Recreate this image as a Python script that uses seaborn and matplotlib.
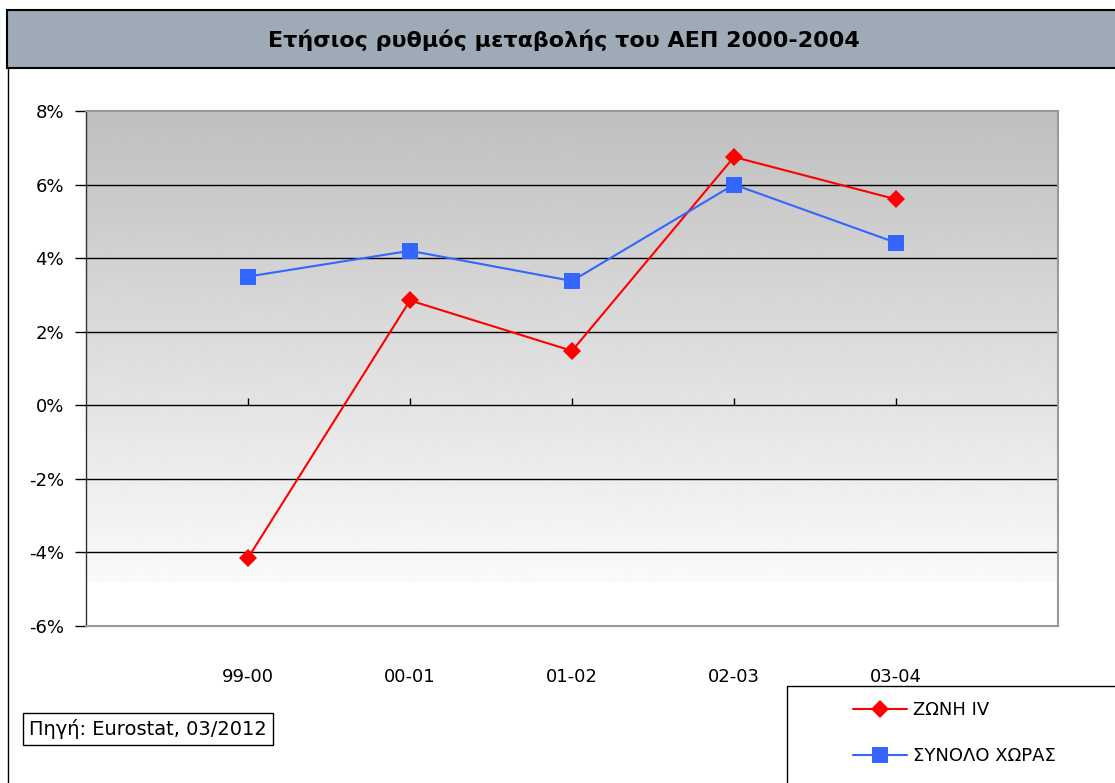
import matplotlib
matplotlib.use("Agg")
import matplotlib.pyplot as plt
import numpy as np
import pandas as pd
import seaborn as sns
from matplotlib.patches import Rectangle

# data
periods = ["99-00", "00-01", "01-02", "02-03", "03-04"]
zone_iv = [-4.15, 2.85, 1.48, 6.75, 5.6]
country_total = [3.5, 4.2, 3.38, 6.0, 4.42]
series_names = ["ΖΩΝΗ IV", "ΣΥΝΟΛΟ ΧΩΡΑΣ"]
y_ticks = [-6, -4, -2, 0, 2, 4, 6, 8]

df = pd.DataFrame({
    "period": periods * 2,
    "value": zone_iv + country_total,
    "series": [series_names[0]] * len(periods) + [series_names[1]] * len(periods),
})

sns.set_theme(style="white")
plt.rcParams["font.family"] = ["DejaVu Sans"]
plt.rcParams["text.color"] = "black"
plt.rcParams["xtick.color"] = "black"
plt.rcParams["ytick.color"] = "black"

fig = plt.figure(figsize=(11.15, 7.83), dpi=100)
ax = fig.add_axes([86 / 1115, 1 - 626 / 783, 972 / 1115, 515 / 783])

# gradient background (dark grey at top, fading to white near -4.8%)
grad = np.linspace(0.75, 0.98, 256).reshape(-1, 1)
ax.imshow(grad, cmap="gray", vmin=0, vmax=1, aspect="auto",
          extent=(-1, 5, -4.8, 8), origin="upper", zorder=0)

for yv in y_ticks[1:-1]:
    ax.axhline(yv, color="black", lw=1, zorder=1)

palette = {series_names[0]: "#ff0000", series_names[1]: "#3366ff"}
markers = {series_names[0]: "D", series_names[1]: "s"}
sns.lineplot(data=df, x="period", y="value", hue="series", style="series",
             palette=palette, markers=markers, dashes=False, lw=1.5,
             markersize=9, markeredgewidth=0, ax=ax, legend=False, zorder=3,
             sort=False)
# square markers are a bit larger in the original
for line in ax.lines:
    if line.get_marker() == "s":
        line.set_markersize(11)

ax.set_xlim(-1, 5)
ax.set_ylim(-6, 8)
ax.set_yticks(y_ticks)
ax.set_yticklabels([f"{t}%" for t in y_ticks])
ax.set_xlabel("")
ax.set_ylabel("")
ax.tick_params(axis="y", direction="out", length=8, width=1, color="black",
               left=True, labelsize=13, labelcolor="black", pad=8)
ax.tick_params(axis="x", length=0, labelsize=13, labelcolor="black", pad=30)
ax.grid(False)

# small tick marks on the zero line
ax.vlines(list(range(len(periods))) + [5], 0, 0.2, color="black", lw=1, zorder=2)

for side in ["top", "right", "bottom"]:
    ax.spines[side].set_color("#999999")
    ax.spines[side].set_linewidth(1.5)
ax.spines["left"].set_color("#333333")
ax.spines["left"].set_linewidth(1)

# title banner
fig.patches.append(Rectangle((7 / 1115, 1 - 68 / 783), 1.0, 58 / 783,
                             transform=fig.transFigure, facecolor="#9eaab5",
                             edgecolor="black", lw=1.5))
fig.text(564 / 1115, 1 - 40 / 783, "Ετήσιος ρυθμός μεταβολής του ΑΕΠ 2000-2004",
         ha="center", va="center", fontsize=16, fontweight="bold", color="black")
# outer chart border on the left
fig.lines.append(plt.Line2D([8 / 1115, 8 / 1115], [0, 1 - 68 / 783],
                            transform=fig.transFigure, color="black", lw=1))

# source box
fig.text(29 / 1115, 1 - 729 / 783, "Πηγή: Eurostat, 03/2012", ha="left",
         va="center", fontsize=14, color="black",
         bbox=dict(boxstyle="square,pad=0.3", facecolor="white",
                   edgecolor="black", lw=1))

# legend box
fig.patches.append(Rectangle((787 / 1115, -0.05), 0.5, 0.05 + 97 / 783,
                             transform=fig.transFigure, facecolor="white",
                             edgecolor="black", lw=1))
handles = [plt.Line2D([], [], color=palette[s], marker=markers[s], lw=1.5,
                      markersize=9 if markers[s] == "D" else 11,
                      markeredgewidth=0) for s in series_names]
fig.legend(handles, series_names, loc="upper left",
           bbox_to_anchor=(837 / 1115, 1 - 685 / 783), frameon=False,
           fontsize=13, handlelength=3.0, labelspacing=1.55, handletextpad=0.3)

fig.savefig("out.png", dpi=100)
